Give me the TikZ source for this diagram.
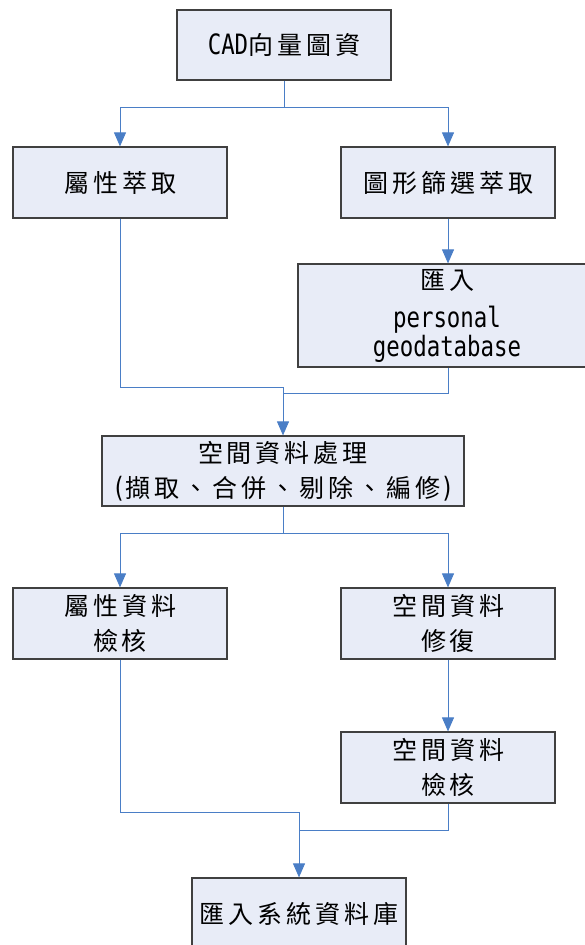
\documentclass[tikz,border=0pt]{standalone}
\usepackage{fontspec}
\usetikzlibrary{arrows.meta}
\newfontfamily\cjk[LetterSpace=16]{Noto Sans CJK TC}
\newfontfamily\lat[FakeStretch=0.8]{DejaVu Sans Mono}
\newcommand{\latbig}{\lat\fontsize{28}{29}\selectfont}
\definecolor{boxfill}{HTML}{E8ECF7}
\definecolor{boxdraw}{HTML}{404040}
\definecolor{linkc}{HTML}{4A7EC6}
\begin{document}
\begin{tikzpicture}[x=1pt,y=-1pt,
  box/.style={draw=boxdraw,fill=boxfill,line width=1.2pt,inner sep=0pt,
    minimum width=214pt,minimum height=71pt,align=center,
    font=\fontsize{25}{35}\selectfont\cjk},
  link/.style={draw=linkc,line width=0.9pt},
  arr/.style={link,-{Triangle[width=12pt,length=14pt]}}]
\useasboundingbox (0,0) rectangle (585,945);
\begin{scope}
\clip (0,0) rectangle (585,945);
\node[box,minimum height=70pt] (cad) at (284,45) {{\latbig CAD}向量圖資};
\node[box] (attr) at (120,182.5) {屬性萃取};
\node[box] (shape) at (448,182.5) {圖形篩選萃取};
\node[box,minimum width=298pt,minimum height=103pt] (imp) at (447,315.5)
  {匯入\\[3pt]{\latbig personal}\\[-6pt]{\latbig geodatabase}};
\node[box,minimum width=362pt,minimum height=70pt] (proc) at (283,471)
  {空間資料處理\\{\latbig(}擷取、合併、剔除、編修{\latbig)}};
\node[box] (acheck) at (120,623.5) {屬性資料\\檢核};
\node[box] (srep) at (448,623.5) {空間資料\\修復};
\node[box] (scheck) at (448,767.5) {空間資料\\檢核};
\node[box] (sys) at (299,913.5) {匯入系統資料庫};

\coordinate (j1) at (284,107);
\coordinate (j2) at (283,387);
\coordinate (j3) at (283,533);
\coordinate (j4) at (299,812);

\draw[link] (cad.south) -- (j1);
\draw[arr] (j1) -| (attr.north);
\draw[arr] (j1) -| (shape.north);
\draw[arr] (shape.south) -- (shape.south |- imp.north);
\draw[link] (attr.south) |- (j2);
\draw[link] (imp.south -| shape.south) -- ++(0,26) -| (j2);
\draw[arr] (j2) -- (proc.north);
\draw[link] (proc.south) -- (j3);
\draw[arr] (j3) -| (acheck.north);
\draw[arr] (j3) -| (srep.north);
\draw[arr] (srep.south) -- (scheck.north);
\draw[link] (acheck.south) |- (j4);
\draw[link] (scheck.south) -- ++(0,27) -| (j4);
\draw[arr] (j4) -- (sys.north);
\end{scope}
\end{tikzpicture}
\end{document}
